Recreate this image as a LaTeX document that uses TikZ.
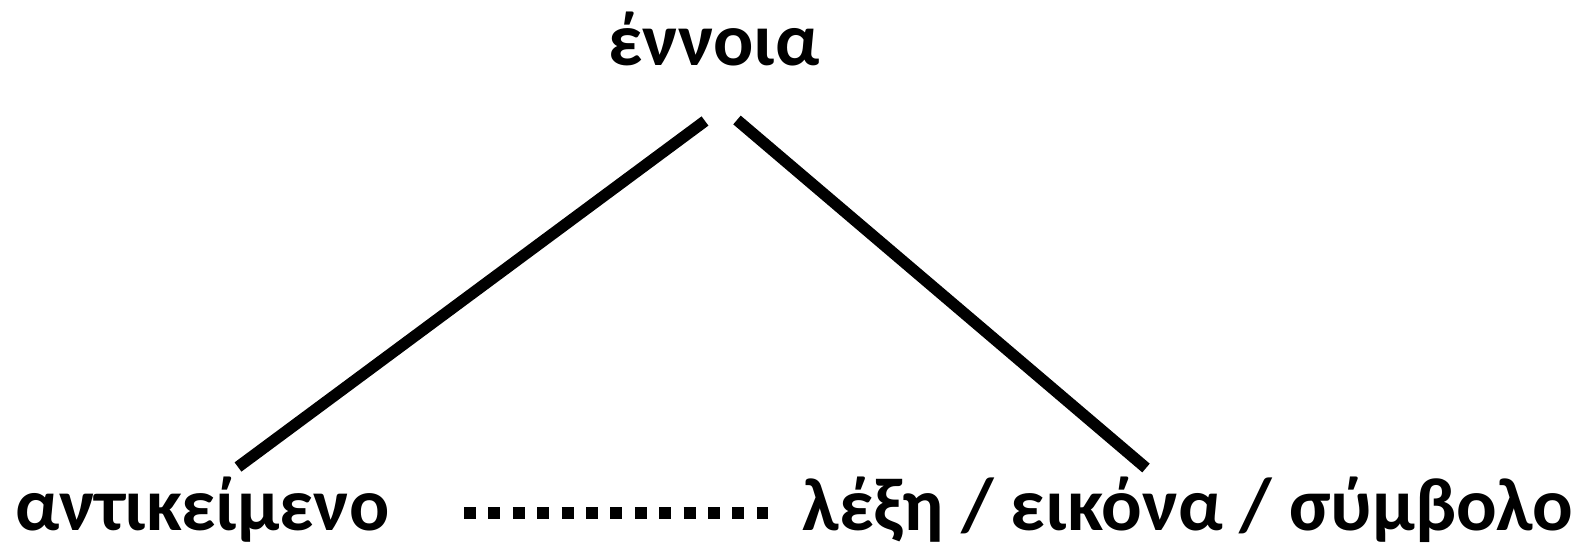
\documentclass[tikz,border=0pt]{standalone}
\usepackage{fontspec}
\setmainfont{Carlito}
\begin{document}
\begin{tikzpicture}[x=1pt,y=-1pt,
  lbl/.style={font=\fontsize{75}{80}\selectfont\bfseries, inner sep=0pt, anchor=base west},
  conn/.style={line width=11.5pt, black},
  dots/.style={line width=12pt, dash pattern=on 12pt off 12.4pt}]
\useasboundingbox (0,0) rectangle (1579,543);
\node[lbl, anchor=base] (top) at (714,66) {έννοια};
\node[lbl] (obj) at (15,530) {αντικείμενο};
\node[lbl, xscale=1.01] (sym) at (802,530) {λέξη / εικόνα / σύμβολο};
\coordinate (l1) at (705,121);
\coordinate (l2) at (238,467);
\coordinate (r1) at (737,120);
\coordinate (r2) at (1146,468);
\coordinate (d1) at (464,513);
\coordinate (d2) at (768,513);
\draw[conn] (l1) -- (l2);
\draw[conn] (r1) -- (r2);
\draw[dots] (d1) -- (d2);
\end{tikzpicture}
\end{document}
